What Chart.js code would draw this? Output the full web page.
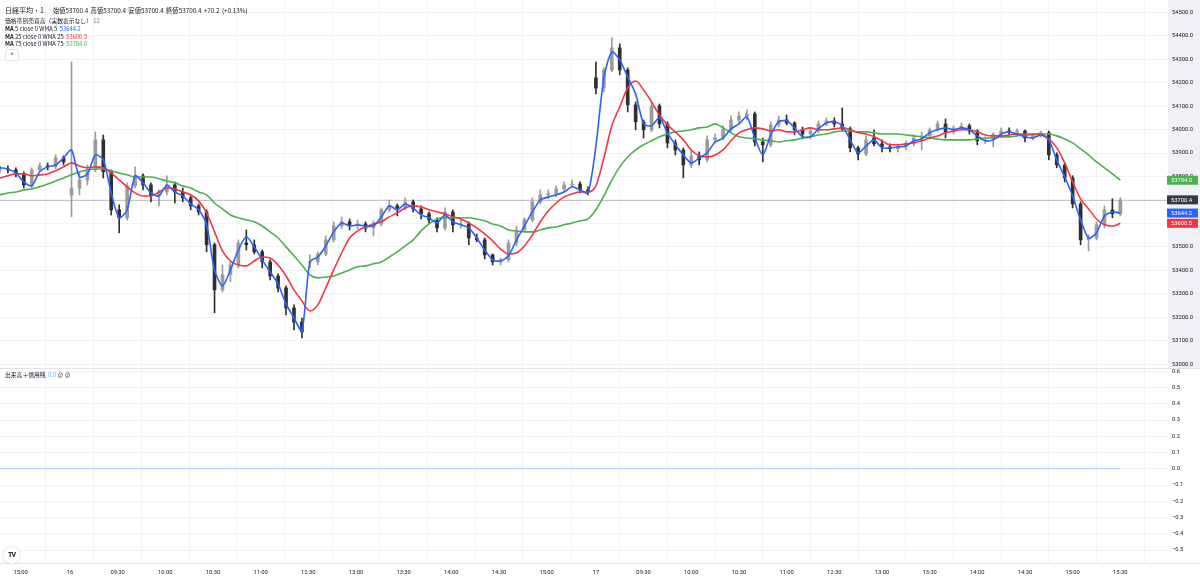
<!DOCTYPE html>
<html lang="ja">
<head>
<meta charset="UTF-8">
<title>日経平均・1</title>
<script src="https://cdn.jsdelivr.net/npm/chart.js@4.4.1/dist/chart.umd.min.js"></script>
<style>
    html, body { margin:0; padding:0; background:#fff; }
    #board {
        position:relative;
        width:1200px;
        height:583px;
        overflow:hidden;
        font-family:"Noto Sans CJK JP", "Noto Sans", Roboto, sans-serif;
        color:#131722;
        font-size:6px;
        line-height:8px;
    }
    #chart1 { position:absolute; left:0; top:0; }
    .txt { position:absolute; left:5px; white-space:nowrap; font-size:5.8px; line-height:8px; height:8px; }
    .sym { font-size:7px; }
    .ohlc { font-size:6.3px; margin-left:9px; word-spacing:1px; }
    .gray { color:#787b86; }
    .btn {
        position:absolute; left:5px; top:49px; width:12px; height:10px;
        border:1px solid #e0e3eb; border-radius:2px; background:#fff;
        font-size:6px; line-height:10px; text-align:center; color:#131722;
    }
    .logo {
        position:absolute; left:3px; top:547px; width:17px; height:17px; border-radius:50%;
        background:#fff; box-shadow:0 0 2px rgba(0,0,0,0.25);
        font:bold 7px Roboto, sans-serif; line-height:17px; text-align:center; letter-spacing:-1px;
    }
</style>
</head>
<body>
<div id="board">
    <canvas id="chart1" width="1200" height="583"></canvas>

    <div class="txt" style="top:6px; line-height:9px; height:9px"><span class="sym">日経平均・1</span><span class="ohlc">始値53700.4 高値53700.4 安値53700.4 終値53700.4 +70.2 (+0.13%)</span></div>
    <div class="txt" style="top:17px">価格帯別売買高（実数表示なし） <span class="gray">12</span></div>
    <div class="txt" style="top:25px"><b>MA</b> 5 close 0 WMA 5 &nbsp;<span style="color:#2962ff">53644.2</span></div>
    <div class="txt" style="top:32.5px"><b>MA</b> 25 close 0 WMA 25 &nbsp;<span style="color:#f23645">53600.5</span></div>
    <div class="txt" style="top:40px"><b>MA</b> 75 close 0 WMA 75 &nbsp;<span style="color:#4caf50">53784.0</span></div>
    <div class="btn">^</div>

    <div class="txt" style="top:371px">出来高＋信用残 &nbsp;<span style="color:#64b5f6">0.0</span> ∅ ∅</div>
    <div class="logo">TV</div>
</div>

<script>
    // 1分足を5本ごとにまとめた値（左端のバー番号 -44 から 5本刻み）
    const firstBar = -44;
    const barStep = 5;

    const open = [53828,53832,53828,53811,53760,53828,53845,53841,53879,53720,
        53751,53785,53828,53956,53820,53658,53624,53760,53803,53764,
        53717,53734,53764,53734,53709,53675,53649,53509,53317,53381,
        53423,53517,53509,53479,53436,53376,53325,53240,53180,53432,
        53436,53470,53530,53589,53607,53594,53598,53581,53598,53658,
        53675,53666,53692,53662,53641,53615,53581,53649,53594,53598,
        53538,53530,53466,53436,53445,53517,53572,53615,53692,53722,
        53722,53747,53764,53768,53743,54220,54177,54254,54348,54254,
        54105,54033,53999,54101,54024,53943,53913,53849,53888,53871,
        53956,53964,53999,54041,54058,54067,53947,53935,54020,54041,
        54028,53999,53981,53994,54024,54037,54024,54003,53922,53896,
        53964,53939,53926,53918,53926,53939,53964,53973,53999,54024,
        53990,54007,54016,53994,53952,53956,53981,53994,53990,53994,
        53964,53973,53986,53892,53849,53794,53683,53530,53538,53594,
        53658,53641];
    const high = [53845,53845,53837,53820,53837,53858,53858,53892,53888,54288,
        53820,53849,53990,53977,53828,53679,53773,53841,53811,53773,
        53743,53803,53777,53751,53717,53683,53658,53517,53423,53436,
        53530,53572,53530,53487,53445,53385,53334,53253,53197,53466,
        53479,53547,53607,53628,53619,53615,53607,53611,53666,53700,
        53683,53709,53700,53675,53649,53624,53666,53658,53615,53607,
        53555,53538,53470,53453,53530,53589,53624,53709,53743,53743,
        53760,53777,53785,53777,53756,54288,54263,54391,54365,54263,
        54118,54041,54118,54109,54033,53956,53922,53913,53905,53973,
        53981,54016,54058,54075,54084,54075,53964,54033,54058,54062,
        54033,54011,54007,54037,54050,54050,54092,54011,53930,53973,
        53999,53956,53939,53935,53952,53977,53990,54007,54037,54045,
        54016,54028,54024,53999,53969,53986,54007,54007,54003,53999,
        53981,53994,53994,53901,53858,53803,53692,53551,53607,53675,
        53705,53709];
    const low = [53815,53815,53798,53751,53747,53824,53828,53832,53849,53628,
        53722,53764,53820,53794,53636,53560,53615,53751,53743,53692,
        53675,53722,53687,53692,53658,53636,53479,53219,53308,53351,
        53410,53487,53470,53410,53359,53308,53210,53146,53112,53410,
        53423,53462,53521,53577,53572,53577,53564,53547,53589,53649,
        53632,53658,53649,53619,53598,53564,53572,53564,53581,53509,
        53521,53449,53423,53423,53436,53504,53564,53607,53683,53705,
        53713,53734,53756,53730,53722,54152,54160,54246,54233,54075,
        53999,53964,53990,54007,53922,53892,53794,53837,53849,53862,
        53943,53956,53990,54028,54041,53930,53862,53926,54011,54020,
        53977,53960,53960,53986,54016,54011,53994,53905,53871,53888,
        53930,53905,53905,53905,53913,53930,53913,53960,53994,53964,
        53981,53999,53981,53935,53939,53926,53973,53977,53977,53947,
        53956,53969,53871,53837,53777,53666,53509,53483,53530,53581,
        53624,53632];
    const close = [53832,53828,53811,53764,53828,53845,53841,53879,53862,53751,
        53785,53828,53956,53820,53658,53624,53760,53803,53764,53717,
        53734,53764,53734,53709,53675,53649,53509,53317,53381,53423,
        53517,53509,53479,53436,53376,53325,53240,53180,53138,53436,
        53470,53530,53589,53607,53594,53598,53581,53598,53658,53675,
        53666,53692,53662,53641,53615,53581,53649,53594,53598,53538,
        53530,53466,53436,53445,53517,53572,53615,53692,53722,53722,
        53747,53764,53768,53743,53734,54177,54254,54348,54254,54105,
        54033,53999,54101,54024,53943,53913,53849,53888,53871,53956,
        53964,53999,54041,54058,54067,53947,53935,54020,54041,54028,
        53999,53981,53994,54024,54037,54024,54003,53922,53896,53956,
        53939,53926,53918,53926,53939,53964,53973,53999,54024,53990,
        54007,54016,53994,53952,53956,53981,53994,53990,53994,53964,
        53973,53986,53892,53849,53794,53683,53530,53538,53594,53658,
        53641,53700.4];

    // WMA 5 / 25 / 75
    const ma5 = [53837,53832,53815,53777,53760,53820,53841,53849,53879,53913,
        53798,53811,53892,53871,53730,53624,53658,53803,53773,53730,
        53717,53764,53734,53717,53683,53658,53594,53402,53334,53402,
        53487,53543,53500,53445,53393,53342,53257,53197,53142,53436,
        53457,53504,53564,53602,53589,53594,53589,53589,53628,53675,
        53658,53683,53666,53636,53624,53602,53636,53607,53594,53581,
        53538,53487,53445,53440,53462,53530,53589,53649,53700,53713,
        53722,53734,53756,53743,53730,53930,54220,54331,54297,54224,
        54152,54024,54016,54050,53986,53935,53892,53858,53879,53901,
        53947,53964,54003,54024,54054,53964,53892,53977,54033,54037,
        54007,53969,53969,54003,54028,54033,54016,53956,53901,53930,
        53956,53922,53922,53926,53930,53952,53960,53986,53999,54007,
        53999,54007,53999,53973,53952,53956,53981,53990,53981,53969,
        53964,53977,53956,53871,53798,53717,53615,53538,53560,53632,
        53649,53644.2];
    const ma25 = [53794,53803,53811,53811,53803,53807,53811,53824,53841,53858,
        53845,53837,53841,53837,53815,53785,53756,53730,53717,53717,
        53734,53751,53747,53734,53722,53696,53645,53564,53483,53440,
        53423,53419,53440,53457,53453,53423,53376,53317,53270,53227,
        53253,53325,53402,53474,53538,53568,53585,53598,53607,53628,
        53645,53666,53675,53670,53658,53649,53641,53628,53619,53602,
        53581,53555,53526,53491,53470,53474,53504,53551,53607,53653,
        53687,53713,53726,53734,53734,53760,53879,54016,54097,54177,
        54207,54169,54118,54062,54020,53990,53956,53913,53888,53883,
        53892,53913,53952,53986,53999,54007,54003,53994,53999,53990,
        53990,53999,54007,53999,53999,54003,54007,53999,53986,53981,
        53969,53952,53935,53935,53939,53943,53952,53964,53973,53986,
        53994,53999,53999,53990,53977,53973,53973,53977,53981,53981,
        53981,53981,53960,53922,53858,53777,53705,53662,53619,53594,
        53589,53600.5];
    const ma75 = [53722,53730,53734,53743,53747,53756,53768,53781,53794,53807,
        53820,53828,53832,53832,53824,53815,53807,53798,53798,53798,
        53790,53781,53773,53760,53751,53734,53722,53687,53662,53636,
        53624,53615,53607,53589,53564,53538,53500,53462,53423,53381,
        53368,53372,53376,53389,53402,53415,53419,53428,53436,53457,
        53479,53504,53530,53568,53598,53619,53624,53624,53624,53624,
        53619,53611,53598,53589,53572,53568,53564,53564,53572,53581,
        53585,53594,53602,53611,53619,53658,53717,53785,53841,53883,
        53913,53935,53952,53969,53981,53990,53994,53999,54007,54011,
        54024,54007,53986,53969,53964,53960,53956,53952,53947,53952,
        53956,53964,53969,53977,53981,53990,53994,53994,53990,53990,
        53986,53981,53981,53981,53977,53973,53969,53964,53960,53956,
        53956,53956,53956,53960,53964,53964,53969,53969,53973,53977,
        53977,53981,53981,53973,53960,53943,53918,53892,53862,53837,
        53811,53784.0];

    // 出来高＋信用残（0.0 の横線）
    const volBars = [-44, 661];
    const volValues = [0.0, 0.0];

    // 時間軸の目盛り（バー番号と表示）
    const tickBars = [-31, 0, 30, 60, 90, 120, 150, 180, 210, 240, 270, 300,
        331, 361, 391, 421, 451, 481, 511, 541, 571, 601, 631, 661];
    const tickLabels = ['15:00','16','09:30','10:00','10:30','11:00','12:30','13:00','13:30','14:00','14:30','15:00',
        '17','09:30','10:00','10:30','11:00','12:30','13:00','13:30','14:00','14:30','15:00','15:30'];
    // 価格軸と下段の目盛り
    const priceTicks = [53000, 53100, 53200, 53300, 53400, 53500, 53600, 53700,
        53800, 53900, 54000, 54100, 54200, 54300, 54400, 54500];
    const lowerTicks = [-0.5, -0.4, -0.3, -0.2, -0.1, 0.0, 0.1, 0.2, 0.3, 0.4, 0.5, 0.6];

    const BLUE = '#2962ff', RED = '#f23645', GREEN = '#4caf50';
    const UP = '#9b9b9b', DOWN = '#2f2f2f';
    const GRID = '#f2f3f5';
    const last = (arr) => arr[arr.length - 1];

    const badges = [
        {value: last(ma75), color: GREEN},
        {value: last(close), color: '#363a45'},
        {value: last(ma5), color: BLUE},
        {value: last(ma25), color: RED}
    ];

    const xs = close.map((c, k) => firstBar + k * barStep);
    const candleColor = close.map((c, k) => c >= open[k] ? UP : DOWN);
    const line = (arr) => xs.map((x, k) => ({x: x, y: arr[k]}));

    const decor = {
        id: 'decor',
        beforeDraw(chart) {
            const {ctx, chartArea} = chart;
            const ys = chart.scales.y;
            ctx.save();
            ctx.fillStyle = '#f0f1f5';
            ctx.fillRect(chartArea.right, ys.top, chart.width - chartArea.right, ys.bottom - ys.top);
            ctx.restore();
        },
        beforeDatasetsDraw(chart) {
            const {ctx, chartArea} = chart;
            const py = Math.round(chart.scales.y.getPixelForValue(last(close))) + 0.5;
            ctx.save();
            ctx.strokeStyle = '#c4c6cb';
            ctx.lineWidth = 1;
            ctx.beginPath();
            ctx.moveTo(chartArea.left, py);
            ctx.lineTo(chartArea.right, py);
            ctx.stroke();
            ctx.restore();
        },
        afterDraw(chart) {
            const {ctx, chartArea} = chart;
            const ys = chart.scales.y;
            ctx.save();
            // pane separators
            ctx.strokeStyle = '#e0e3eb';
            ctx.lineWidth = 1;
            ctx.beginPath();
            ctx.moveTo(0, Math.round(ys.bottom) + 0.5);
            ctx.lineTo(chart.width, Math.round(ys.bottom) + 0.5);
            ctx.moveTo(0, Math.round(chartArea.bottom) + 0.5);
            ctx.lineTo(chart.width, Math.round(chartArea.bottom) + 0.5);
            ctx.stroke();
            // price badges on the right scale
            ctx.font = '5.8px Roboto, sans-serif';
            ctx.textBaseline = 'middle';
            badges.forEach(b => {
                const py = ys.getPixelForValue(b.value);
                ctx.fillStyle = b.color;
                ctx.fillRect(chartArea.right - 1, py - 4.5, 31, 9);
                ctx.fillStyle = '#ffffff';
                ctx.fillText(b.value.toFixed(1), chartArea.right + 3, py + 0.5);
            });
            ctx.restore();
        }
    };

    Chart.defaults.font.family = 'Roboto, "Noto Sans", sans-serif';

    new Chart(document.getElementById('chart1').getContext('2d'), {
        type: 'line',
        data: {
            datasets: [
                {
                    type: 'line', data: line(ma5), yAxisID: 'y',
                    borderColor: BLUE, borderWidth: 1.6, pointRadius: 0,
                    tension: 0.25, order: 0
                },
                {
                    type: 'line', data: line(ma25), yAxisID: 'y',
                    borderColor: RED, borderWidth: 1.6, pointRadius: 0,
                    cubicInterpolationMode: 'monotone', order: 1
                },
                {
                    type: 'line', data: line(ma75), yAxisID: 'y',
                    borderColor: GREEN, borderWidth: 1.6, pointRadius: 0,
                    cubicInterpolationMode: 'monotone', order: 2
                },
                {
                    type: 'bar', yAxisID: 'y', grouped: false, order: 5,
                    data: xs.map((x, k) => ({x: x, y: [open[k], close[k]]})),
                    backgroundColor: candleColor, barThickness: 3, minBarLength: 1
                },
                {
                    type: 'bar', yAxisID: 'y', grouped: false, order: 6,
                    data: xs.map((x, k) => ({x: x, y: [low[k], high[k]]})),
                    backgroundColor: candleColor, barThickness: 1
                },
                {
                    type: 'line', yAxisID: 'y2', order: 3,
                    data: volBars.map((x, i) => ({x: x, y: volValues[i]})),
                    borderColor: '#a9cdf5', borderWidth: 1, pointRadius: 0
                }
            ]
        },
        options: {
            responsive: false,
            animation: false,
            events: [],
            layout: { padding: 0 },
            plugins: { legend: { display: false }, tooltip: { enabled: false } },
            scales: {
                x: {
                    type: 'linear', min: firstBar, max: 691, offset: false, bounds: 'data',
                    afterBuildTicks: (s) => { s.ticks = tickBars.map(v => ({value: v})); },
                    afterFit: (s) => { s.height = 20; s.paddingLeft = 0; s.paddingRight = 0; },
                    ticks: {
                        autoSkip: false, maxRotation: 0, padding: 6, color: '#131722',
                        font: { size: 5.8 },
                        callback: (v) => tickLabels[tickBars.indexOf(v)]
                    },
                    grid: { color: GRID, drawTicks: false },
                    border: { display: false }
                },
                y: {
                    position: 'right', stack: 'pane', stackWeight: 368,
                    min: 52984, max: 54552, bounds: 'data',
                    afterBuildTicks: (s) => { s.ticks = priceTicks.map(v => ({value: v})); },
                    afterFit: (s) => { s.width = 32; s.paddingTop = 0; s.paddingBottom = 0; },
                    ticks: {
                        autoSkip: false, padding: 4, color: '#131722',
                        font: { size: 5.8 },
                        callback: (v) => v.toFixed(1)
                    },
                    grid: { color: GRID, drawTicks: false },
                    border: { display: false }
                },
                y2: {
                    position: 'right', stack: 'pane', stackWeight: 195,
                    min: -0.58, max: 0.62, bounds: 'data',
                    afterBuildTicks: (s) => { s.ticks = lowerTicks.map(v => ({value: v})); },
                    afterFit: (s) => { s.width = 32; s.paddingTop = 0; s.paddingBottom = 0; },
                    ticks: {
                        autoSkip: false, padding: 4, color: '#131722',
                        font: { size: 5.8 },
                        callback: (v) => (v < 0 ? '−' : '') + Math.abs(v).toFixed(1)
                    },
                    grid: { color: GRID, drawTicks: false },
                    border: { display: false }
                }
            }
        },
        plugins: [decor]
    });
</script>
</body>
</html>
